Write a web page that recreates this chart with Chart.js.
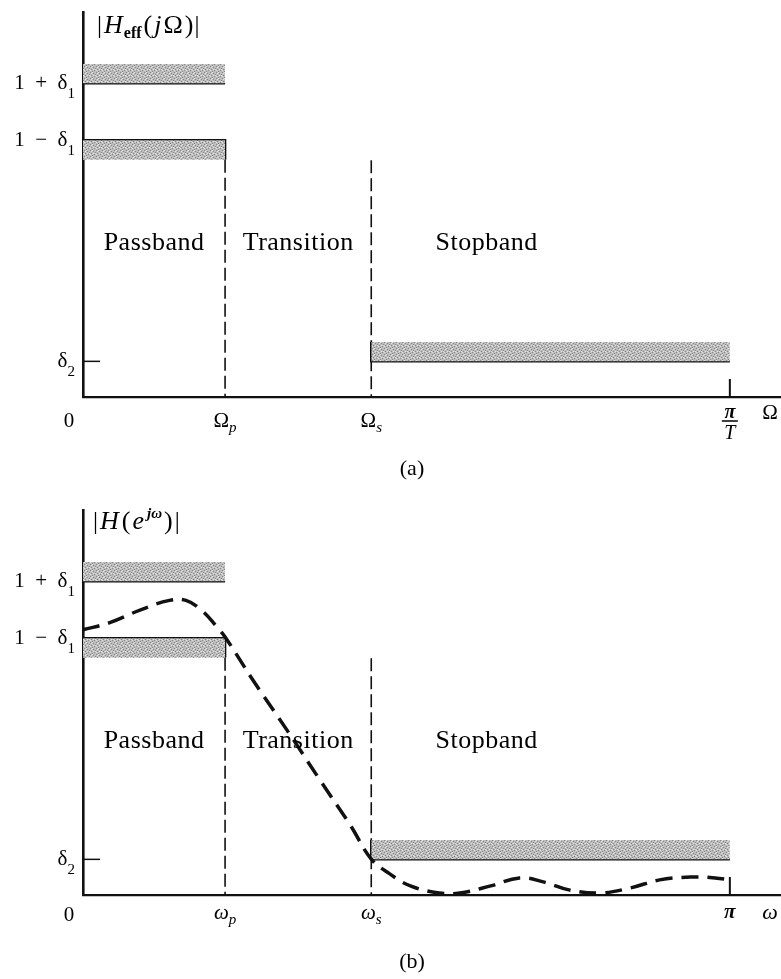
<!DOCTYPE html>
<html>
<head>
<meta charset="utf-8">
<title>Lowpass filter tolerance schemes</title>
<script src="https://cdn.jsdelivr.net/npm/chart.js@4.4.1/dist/chart.umd.min.js"></script>
<style>
  body { margin: 0; background: #fff; }
  #wrap { position: relative; width: 781px; height: 979px; }
  canvas { position: absolute; left: 0; }
</style>
</head>
<body>
<div id="wrap">
  <canvas id="chartA" width="781" height="480" style="top:0"></canvas>
  <canvas id="chartB" width="781" height="499" style="top:480px"></canvas>
</div>
<script>
// Tolerance scheme (schematic units, shared by both panels)
const delta1 = 0.1;
const delta2 = 0.125;
const omegaP = 0.69;
const omegaS = 1.40;
const omegaEnd = Math.PI;
const xMax = 3.39;
const yMax = 1.35;

// y ticks: value and [main text, subscript]
const yTickValues = [delta2, 1 - delta1, 1 + delta1];
const yTickLabels = [['δ', '2'], ['1\u2002−\u2002δ', '1'], ['1\u2002+\u2002δ', '1']];

// x ticks
const xTickValues = [0, omegaP, omegaS, omegaEnd];
const xTickLabelsA = [['0', ''], ['Ω', 'p'], ['Ω', 's'], ['π', 'T']];
const xTickLabelsB = [['0', ''], ['ω', 'p'], ['ω', 's'], ['π', '']];

// region names and where they sit
const regionNames = ['Passband', 'Transition', 'Stopband'];
const regionCenters = [(0 + omegaP) / 2, (omegaP + omegaS) / 2, 1.96];
const regionLevel = 0.515;

// top of the dashed stopband-edge marker
const stopMarkTop = 0.83;

// realised response in panel (b)
const respOmega = [0, 0.13, 0.28, 0.42, 0.50, 0.58, 0.65, 0.69, 0.825, 0.99, 1.15, 1.30, 1.40,
  1.49, 1.59, 1.73, 1.83, 1.98, 2.12, 2.24, 2.36, 2.51, 2.66, 2.80, 2.95, 3.07, 3.14];
const respMag = [0.93, 0.955, 1.0, 1.033, 1.033, 0.996, 0.94, 0.905, 0.754, 0.579, 0.404, 0.243, 0.126,
  0.074, 0.032, 0.007, 0.007, 0.032, 0.060, 0.045, 0.018, 0.007, 0.025, 0.053, 0.063, 0.060, 0.053];

const BAND = 0.068;   // depth of the shaded forbidden zone
const TICK = 0.063;
const INK = '#111';
const SERIF = '"Liberation Serif", "Times New Roman", serif';
const f = (style, size) => `${style} ${size}px ${SERIF}`;

// grey stipple for the shaded bands
function stipple() {
    const c = document.createElement('canvas');
    c.width = c.height = 6;
    const g = c.getContext('2d');
    g.fillStyle = '#bdbdbd';
    g.fillRect(0, 0, 6, 6);
    g.fillStyle = '#858585';
    [[0, 0], [3, 1], [1, 3], [4, 4], [5, 2], [2, 5]].forEach(p => g.fillRect(p[0], p[1], 1, 1));
    g.fillStyle = '#e2e2e2';
    [[2, 0], [5, 3], [0, 4], [3, 3], [1, 1]].forEach(p => g.fillRect(p[0], p[1], 1, 1));
    return g.createPattern(c, 'repeat');
}
const shade = stipple();

function seg(points, extra) {
    return Object.assign({
        data: points.map(p => ({ x: p[0], y: p[1] })),
        showLine: true,
        borderColor: INK,
        borderWidth: 2.5,
        pointRadius: 0,
        fill: false
    }, extra);
}

function band(x1, x2, edge, dir) {
    return seg([[x1, edge + dir * BAND], [x2, edge + dir * BAND]], {
        borderWidth: 0,
        backgroundColor: shade,
        fill: { value: edge }
    });
}

// draw a run of text pieces (for subscripts / superscripts)
function drawParts(ctx, parts, x, y, align) {
    let w = 0;
    parts.forEach(p => { ctx.font = p.font; w += ctx.measureText(p.t).width + (p.gap || 0); });
    let cx = align === 'right' ? x - w : align === 'center' ? x - w / 2 : x;
    ctx.textAlign = 'left';
    parts.forEach(p => {
        ctx.font = p.font;
        cx += p.gap || 0;
        ctx.fillText(p.t, cx, y + (p.dy || 0));
        cx += ctx.measureText(p.t).width;
    });
}

function labelPlugin(panel) {
    return {
        id: 'labels' + panel,
        afterDraw(chart) {
            const ctx = chart.ctx;
            const xs = chart.scales.x, ys = chart.scales.y;
            const x0 = xs.getPixelForValue(0), y0 = ys.getPixelForValue(0);
            ctx.save();
            ctx.fillStyle = '#000';
            ctx.strokeStyle = '#000';

            yTickValues.forEach((v, i) => {
                drawParts(ctx, [
                    { t: yTickLabels[i][0], font: f('', 21) },
                    { t: yTickLabels[i][1], font: f('', 15), dy: 9 }
                ], x0 - 8, ys.getPixelForValue(v) + 6, 'right');
            });

            regionNames.forEach((name, i) => {
                ctx.font = f('', 26);
                ctx.letterSpacing = '0.5px';
                ctx.textAlign = 'center';
                ctx.fillText(name, xs.getPixelForValue(regionCenters[i]), ys.getPixelForValue(regionLevel));
                ctx.letterSpacing = '0px';
            });

            const labels = panel === 'a' ? xTickLabelsA : xTickLabelsB;
            const base = panel === 'a' ? 30 : 26;
            ctx.textAlign = 'center';
            ctx.font = f('', 21);
            ctx.fillText(labels[0][0], x0 - 14, y0 + base);
            for (let i = 1; i <= 2; i++) {
                drawParts(ctx, [
                    { t: labels[i][0], font: f(panel === 'a' ? '' : 'italic', 21) },
                    { t: labels[i][1], font: f('italic', 15), dy: 5 }
                ], xs.getPixelForValue(xTickValues[i]), y0 + (panel === 'a' ? base : base - 2), 'center');
            }
            const xe = xs.getPixelForValue(xTickValues[3]);
            if (panel === 'a') {
                ctx.textAlign = 'center';
                ctx.font = f('italic bold', 20);
                ctx.fillText(labels[3][0], xe, y0 + 21);
                ctx.lineWidth = 1.5;
                ctx.beginPath();
                ctx.moveTo(xe - 8, y0 + 24);
                ctx.lineTo(xe + 8, y0 + 24);
                ctx.stroke();
                ctx.font = f('italic', 20);
                ctx.fillText(labels[3][1], xe, y0 + 42);
                ctx.font = f('', 21);
                ctx.fillText('Ω', xs.right - 11, y0 + 22);
                drawParts(ctx, [
                    { t: '|', font: f('', 25) },
                    { t: 'H', font: f('italic', 26), gap: 2 },
                    { t: 'eff', font: f('bold', 16), dy: 5, gap: 1 },
                    { t: '(', font: f('', 26), gap: 2 },
                    { t: 'j', font: f('italic', 26), gap: 2 },
                    { t: 'Ω', font: f('', 26), gap: 2 },
                    { t: ')', font: f('', 26), gap: 2 },
                    { t: '|', font: f('', 25), gap: 1 }
                ], x0 + 14, ys.top + 21, 'left');
                ctx.textAlign = 'center';
                ctx.font = f('', 22);
                ctx.fillText('(a)', 412, chart.height - 5);
            } else {
                ctx.textAlign = 'center';
                ctx.font = f('italic bold', 21);
                ctx.fillText(labels[3][0], xe, y0 + 23);
                ctx.font = f('italic', 22);
                ctx.fillText('ω', xs.right - 11, y0 + 24);
                drawParts(ctx, [
                    { t: '|', font: f('', 25) },
                    { t: 'H', font: f('italic', 26), gap: 2 },
                    { t: '(', font: f('', 26), gap: 3 },
                    { t: 'e', font: f('italic', 26), gap: 2 },
                    { t: 'jω', font: f('italic bold', 15), dy: -11, gap: 3 },
                    { t: ')', font: f('', 26), gap: 2 },
                    { t: '|', font: f('', 25), gap: 2 }
                ], x0 + 10, ys.top + 19, 'left');
                ctx.textAlign = 'center';
                ctx.font = f('', 22);
                ctx.fillText('(b)', 412, chart.height - 11);
            }
            ctx.restore();
        }
    };
}

function buildDatasets(panel) {
    const ds = [
        band(0, omegaP, 1 + delta1, 1),
        band(0, omegaP, 1 - delta1, -1),
        band(omegaS, omegaEnd, delta2, 1),
        seg([[0, 1 + delta1], [omegaP, 1 + delta1]]),
        seg([[0, 1 - delta1], [omegaP, 1 - delta1], [omegaP, 1 - delta1 - BAND]]),
        seg([[omegaS, delta2 + BAND], [omegaS, delta2], [omegaEnd, delta2]]),
        seg([[omegaP, 1 - delta1 - BAND], [omegaP, 0]], { borderWidth: 1.6, borderDash: [13, 5] }),
        seg([[omegaS, stopMarkTop], [omegaS, 0]], { borderWidth: 1.6, borderDash: [13, 5] }),
        seg([[omegaEnd, TICK], [omegaEnd, 0]], { borderWidth: 2 }),
        seg([[0, delta2], [0.083, delta2]], { borderWidth: 1.5 })
    ];
    if (panel === 'b') {
        ds.unshift(seg(respOmega.map((w, i) => [w, respMag[i]]), {
            borderWidth: 3.5,
            borderDash: [17, 9],
            tension: 0.4
        }));
    }
    return ds;
}

function makeChart(id, panel, padding) {
    return new Chart(document.getElementById(id), {
        type: 'scatter',
        data: { datasets: buildDatasets(panel) },
        options: {
            responsive: false,
            animation: false,
            events: [],
            clip: false,
            layout: { padding: padding },
            plugins: {
                legend: { display: false },
                tooltip: { enabled: false }
            },
            scales: {
                x: {
                    type: 'linear', min: 0, max: xMax,
                    grid: { display: false, drawTicks: false },
                    ticks: { display: false },
                    border: { color: INK, width: 2.2 }
                },
                y: {
                    type: 'linear', min: 0, max: yMax,
                    grid: { display: false, drawTicks: false },
                    ticks: { display: false },
                    border: { color: INK, width: 2.6 }
                }
            }
        },
        plugins: [labelPlugin(panel)]
    });
}

makeChart('chartA', 'a', { left: 83, top: 12, right: 0, bottom: 83 });
makeChart('chartB', 'b', { left: 83, top: 30, right: 0, bottom: 84 });
</script>
</body>
</html>
